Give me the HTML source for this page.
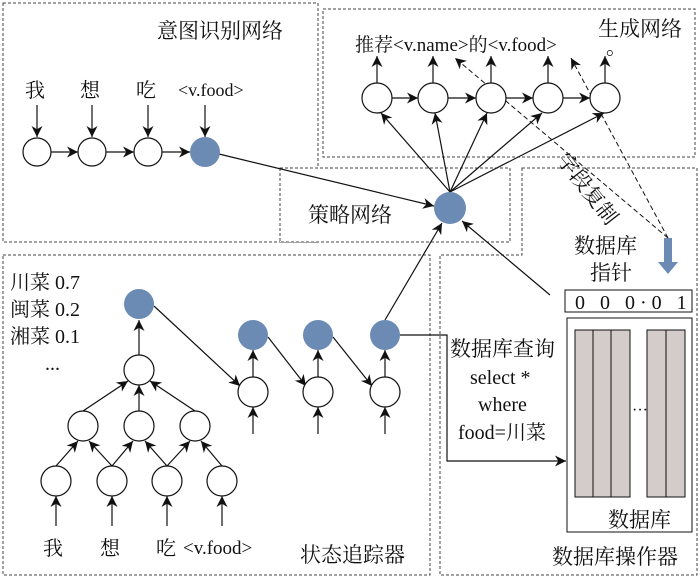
<!DOCTYPE html>
<html><head><meta charset="utf-8"><style>
body{margin:0;background:#fff}
svg{display:block}
text{font-family:"Liberation Serif","Noto Serif CJK SC","Noto Sans CJK SC",serif;fill:#111}
</style></head><body>
<svg width="700" height="578" viewBox="0 0 700 578" xmlns="http://www.w3.org/2000/svg">
<defs>
<marker id="a" viewBox="0 0 10 10" refX="10" refY="5" markerWidth="15" markerHeight="11" markerUnits="userSpaceOnUse" orient="auto"><path d="M0,0 L10,5 L0,10 L3,5z" fill="#111"/></marker>
</defs>
<g fill="none" stroke="#444" stroke-dasharray="3,2" stroke-width="1">
<rect x="3" y="3" width="315" height="239"/>
<rect x="323" y="9" width="372" height="148"/>
<rect x="280" y="168" width="230" height="74" fill="#fff"/>
<polygon points="522,168 697,168 697,575 440,575 440,255 522,255"/>
<rect x="3" y="255" width="427" height="320"/>
</g>
<g font-size="21">
<text x="157" y="38">意图识别网络</text>
<text x="598" y="36">生成网络</text>
<text x="606" y="54">。</text>
<text x="308" y="222">策略网络</text>
<text x="574" y="253">数据库</text>
<text x="590" y="280">指针</text>
<text x="300" y="562">状态追踪器</text>
<text x="552" y="564">数据库操作器</text>
<text x="608" y="527">数据库</text>
<text x="450" y="356">数据库查询</text>
<text x="556" y="160" transform="rotate(52 556 160)">字段复制</text>
</g>
<g font-size="20">
<text x="25" y="97">我</text><text x="80" y="97">想</text><text x="136" y="97">吃</text><text x="178" y="96" font-size="18">&lt;v.food&gt;</text>
<text x="355" y="51" font-size="19">推荐&lt;v.name&gt;的&lt;v.food&gt;</text>
<text x="10" y="289">川菜  0.7</text>
<text x="10" y="316">闽菜  0.2</text>
<text x="10" y="343">湘菜  0.1</text>
<text x="45" y="370">...</text>
<text x="43" y="555">我</text><text x="100" y="555">想</text><text x="156" y="555">吃</text><text x="183" y="554" font-size="19">&lt;v.food&gt;</text>
<text x="470" y="384">select *</text>
<text x="478" y="411">where</text>
<text x="458" y="439">food=川菜</text>
<text x="575" y="309" letter-spacing="5">0 0 0·0 1</text>
</g>
<g stroke="#111" stroke-width="1.2" fill="none" marker-end="url(#a)">
<line x1="37" y1="105" x2="37" y2="137"/><line x1="92" y1="105" x2="92" y2="137"/><line x1="148" y1="105" x2="148" y2="137"/><line x1="205" y1="105" x2="205" y2="137"/>
<line x1="51" y1="152" x2="78" y2="152"/><line x1="106" y1="152" x2="134" y2="152"/><line x1="162" y1="152" x2="190" y2="152"/>
<line x1="219" y1="154" x2="434" y2="206"/>
<line x1="377" y1="83" x2="377" y2="56"/><line x1="433" y1="83" x2="433" y2="56"/><line x1="491" y1="83" x2="491" y2="56"/><line x1="548" y1="83" x2="548" y2="56"/><line x1="605" y1="83" x2="605" y2="56"/>
<line x1="392" y1="98" x2="418" y2="98"/><line x1="448" y1="98" x2="476" y2="98"/><line x1="506" y1="98" x2="533" y2="98"/><line x1="563" y1="98" x2="590" y2="98"/>
<line x1="450" y1="192" x2="381" y2="113"/><line x1="450" y1="192" x2="435" y2="113"/><line x1="450" y1="192" x2="487" y2="113"/><line x1="450" y1="192" x2="542" y2="113"/><line x1="450" y1="192" x2="604" y2="113"/>
<line x1="385" y1="320" x2="442" y2="223"/>
<line x1="550" y1="295" x2="462" y2="221"/>
<line x1="139" y1="355" x2="139" y2="320"/>
<line x1="83" y1="411" x2="128" y2="381"/><line x1="139" y1="411" x2="139" y2="385"/><line x1="195" y1="411" x2="150" y2="381"/>
<line x1="56" y1="466" x2="78" y2="441"/><line x1="112" y1="466" x2="89" y2="441"/><line x1="112" y1="466" x2="133" y2="441"/><line x1="167" y1="466" x2="145" y2="441"/><line x1="167" y1="466" x2="190" y2="441"/><line x1="222" y1="466" x2="201" y2="441"/>
<line x1="56" y1="526" x2="56" y2="496"/><line x1="112" y1="526" x2="112" y2="496"/><line x1="167" y1="526" x2="167" y2="496"/><line x1="222" y1="526" x2="222" y2="496"/>
<line x1="154" y1="306" x2="240" y2="386"/><line x1="268" y1="337" x2="306" y2="386"/><line x1="333" y1="337" x2="372" y2="386"/>
<line x1="253" y1="434" x2="253" y2="407"/><line x1="318" y1="434" x2="318" y2="407"/><line x1="385" y1="434" x2="385" y2="407"/>
<line x1="253" y1="377" x2="253" y2="350"/><line x1="318" y1="377" x2="318" y2="350"/><line x1="385" y1="377" x2="385" y2="350"/>
<polyline points="400,335 447,335 447,461 566,461"/>
</g>
<g stroke="#111" stroke-width="1" fill="none" stroke-dasharray="5,3" marker-end="url(#a)">
<line x1="668" y1="238" x2="455" y2="58"/>
<line x1="668" y1="238" x2="571" y2="58"/>
</g>
<polygon points="664,238 672,238 672,262 678,262 668,274 658,262 664,262" fill="#6b8bb5"/>
<g stroke="#111" stroke-width="1.2" fill="#fff">
<circle cx="37" cy="152" r="14"/><circle cx="92" cy="152" r="14"/><circle cx="148" cy="152" r="14"/>
<circle cx="377" cy="98" r="15"/><circle cx="433" cy="98" r="15"/><circle cx="491" cy="98" r="15"/><circle cx="548" cy="98" r="15"/><circle cx="605" cy="98" r="15"/>
<circle cx="139" cy="370" r="15"/><circle cx="83" cy="426" r="15"/><circle cx="139" cy="426" r="15"/><circle cx="195" cy="426" r="15"/>
<circle cx="56" cy="481" r="15"/><circle cx="112" cy="481" r="15"/><circle cx="167" cy="481" r="15"/><circle cx="222" cy="481" r="15"/>
<circle cx="253" cy="392" r="15"/><circle cx="318" cy="392" r="15"/><circle cx="385" cy="392" r="15"/>
</g>
<g fill="#6b8bb5">
<circle cx="205" cy="152" r="15"/><circle cx="450" cy="208" r="16"/>
<circle cx="139" cy="304" r="15"/><circle cx="253" cy="335" r="15"/><circle cx="318" cy="335" r="15"/><circle cx="385" cy="335" r="15"/>
</g>
<rect x="565" y="290" width="127" height="22" fill="none" stroke="#111"/>
<rect x="567" y="318" width="125" height="214" fill="none" stroke="#111"/>
<g fill="#d3cccb" stroke="#111">
<rect x="575" y="330" width="18" height="167"/><rect x="593" y="330" width="18" height="167"/><rect x="611" y="330" width="19" height="167"/>
<rect x="647" y="330" width="19" height="167"/><rect x="666" y="330" width="19" height="167"/>
</g>
<text x="632" y="415" font-size="16">···</text>
</svg>
</body></html>
